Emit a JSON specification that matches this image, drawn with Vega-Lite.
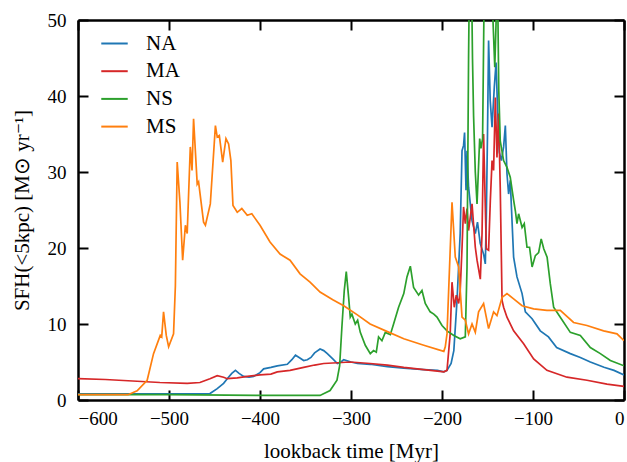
{
  "$schema": "https://vega.github.io/schema/vega-lite/v6.json",
  "width": 546,
  "height": 380,
  "autosize": "none",
  "padding": {"left": 78, "top": 20, "right": 3, "bottom": 62},
  "background": "white",
  "config": {
    "view": {"stroke": null},
    "font": "Liberation Serif",
    "axis": {
      "grid": false,
      "domainColor": "black",
      "domainWidth": 2.5,
      "tickColor": "black",
      "tickWidth": 2,
      "tickSize": -10,
      "labelFont": "Liberation Serif",
      "labelFontSize": 19,
      "labelColor": "black",
      "titleFont": "Liberation Serif",
      "titleFontSize": 21,
      "titleFontWeight": "normal",
      "titleColor": "black"
    },
    "legend": {
      "labelFont": "Liberation Serif",
      "labelFontSize": 21,
      "labelColor": "black"
    }
  },
  "data": {
    "values": [
      {"t": -600, "v": 0.8, "s": "NA"}, {"t": -580, "v": 0.8, "s": "NA"}, {"t": -550, "v": 0.8, "s": "NA"}, {"t": -520, "v": 0.8, "s": "NA"}, {"t": -490, "v": 0.8, "s": "NA"}, {"t": -470, "v": 0.8, "s": "NA"}, {"t": -455, "v": 0.85, "s": "NA"}, {"t": -447, "v": 1.5, "s": "NA"}, {"t": -440, "v": 2.2, "s": "NA"}, {"t": -436, "v": 2.8, "s": "NA"}, {"t": -431, "v": 3.5, "s": "NA"}, {"t": -427, "v": 3.9, "s": "NA"}, {"t": -423, "v": 3.5, "s": "NA"}, {"t": -418, "v": 3.1, "s": "NA"}, {"t": -412, "v": 3.0, "s": "NA"}, {"t": -407, "v": 3.1, "s": "NA"}, {"t": -400, "v": 3.6, "s": "NA"}, {"t": -396, "v": 4.1, "s": "NA"}, {"t": -388, "v": 4.3, "s": "NA"}, {"t": -381, "v": 4.5, "s": "NA"}, {"t": -370, "v": 4.7, "s": "NA"}, {"t": -365, "v": 5.3, "s": "NA"}, {"t": -361, "v": 5.9, "s": "NA"}, {"t": -357, "v": 5.6, "s": "NA"}, {"t": -352, "v": 5.2, "s": "NA"}, {"t": -348, "v": 5.3, "s": "NA"}, {"t": -344, "v": 5.6, "s": "NA"}, {"t": -340, "v": 6.2, "s": "NA"}, {"t": -334, "v": 6.7, "s": "NA"}, {"t": -330, "v": 6.5, "s": "NA"}, {"t": -326, "v": 6.1, "s": "NA"}, {"t": -320, "v": 5.4, "s": "NA"}, {"t": -315, "v": 4.8, "s": "NA"}, {"t": -311, "v": 5.0, "s": "NA"}, {"t": -308, "v": 5.3, "s": "NA"}, {"t": -300, "v": 5.0, "s": "NA"}, {"t": -293, "v": 4.8, "s": "NA"}, {"t": -279, "v": 4.7, "s": "NA"}, {"t": -260, "v": 4.4, "s": "NA"}, {"t": -242, "v": 4.2, "s": "NA"}, {"t": -220, "v": 4.0, "s": "NA"}, {"t": -205, "v": 3.9, "s": "NA"}, {"t": -198, "v": 3.7, "s": "NA"}, {"t": -194.5, "v": 3.9, "s": "NA"}, {"t": -190, "v": 4.8, "s": "NA"}, {"t": -187, "v": 6.5, "s": "NA"}, {"t": -183.5, "v": 13.1, "s": "NA"}, {"t": -180, "v": 21.9, "s": "NA"}, {"t": -178, "v": 32.8, "s": "NA"}, {"t": -176.3, "v": 33.5, "s": "NA"}, {"t": -175.2, "v": 35.2, "s": "NA"}, {"t": -173.6, "v": 27.6, "s": "NA"}, {"t": -172.5, "v": 32.8, "s": "NA"}, {"t": -170.8, "v": 28.0, "s": "NA"}, {"t": -167, "v": 23.6, "s": "NA"}, {"t": -163.4, "v": 21.9, "s": "NA"}, {"t": -161, "v": 23.4, "s": "NA"}, {"t": -158, "v": 20.6, "s": "NA"}, {"t": -154.3, "v": 19.2, "s": "NA"}, {"t": -152.4, "v": 17.9, "s": "NA"}, {"t": -151.3, "v": 24.1, "s": "NA"}, {"t": -150, "v": 35.0, "s": "NA"}, {"t": -148.8, "v": 47.3, "s": "NA"}, {"t": -147, "v": 39.4, "s": "NA"}, {"t": -145, "v": 35.9, "s": "NA"}, {"t": -142.5, "v": 41.2, "s": "NA"}, {"t": -140.6, "v": 44.4, "s": "NA"}, {"t": -139, "v": 38.5, "s": "NA"}, {"t": -137, "v": 32.6, "s": "NA"}, {"t": -134.8, "v": 31.5, "s": "NA"}, {"t": -132.3, "v": 33.3, "s": "NA"}, {"t": -130.4, "v": 36.1, "s": "NA"}, {"t": -128.6, "v": 29.8, "s": "NA"}, {"t": -126.8, "v": 27.1, "s": "NA"}, {"t": -125, "v": 28.9, "s": "NA"}, {"t": -121.3, "v": 18.8, "s": "NA"}, {"t": -117.6, "v": 16.2, "s": "NA"}, {"t": -112, "v": 14.0, "s": "NA"}, {"t": -108.4, "v": 11.6, "s": "NA"}, {"t": -101, "v": 10.7, "s": "NA"}, {"t": -92, "v": 9.1, "s": "NA"}, {"t": -83, "v": 8.3, "s": "NA"}, {"t": -74, "v": 6.9, "s": "NA"}, {"t": -59, "v": 6.1, "s": "NA"}, {"t": -48, "v": 5.6, "s": "NA"}, {"t": -37, "v": 5.0, "s": "NA"}, {"t": -22, "v": 4.3, "s": "NA"}, {"t": -11, "v": 3.9, "s": "NA"}, {"t": 0, "v": 3.3, "s": "NA"},

      {"t": -600, "v": 2.8, "s": "MA"}, {"t": -570, "v": 2.7, "s": "MA"}, {"t": -540, "v": 2.5, "s": "MA"}, {"t": -510, "v": 2.3, "s": "MA"}, {"t": -480, "v": 2.2, "s": "MA"}, {"t": -466, "v": 2.3, "s": "MA"}, {"t": -455, "v": 2.8, "s": "MA"}, {"t": -447, "v": 3.2, "s": "MA"}, {"t": -440, "v": 3.0, "s": "MA"}, {"t": -436, "v": 2.8, "s": "MA"}, {"t": -425, "v": 2.9, "s": "MA"}, {"t": -414, "v": 3.1, "s": "MA"}, {"t": -400, "v": 3.3, "s": "MA"}, {"t": -388, "v": 3.4, "s": "MA"}, {"t": -381, "v": 3.7, "s": "MA"}, {"t": -367, "v": 3.9, "s": "MA"}, {"t": -352, "v": 4.3, "s": "MA"}, {"t": -340, "v": 4.6, "s": "MA"}, {"t": -330, "v": 4.8, "s": "MA"}, {"t": -315, "v": 4.9, "s": "MA"}, {"t": -301, "v": 5.0, "s": "MA"}, {"t": -290, "v": 4.9, "s": "MA"}, {"t": -279, "v": 4.8, "s": "MA"}, {"t": -260, "v": 4.6, "s": "MA"}, {"t": -242, "v": 4.3, "s": "MA"}, {"t": -220, "v": 4.0, "s": "MA"}, {"t": -205, "v": 3.8, "s": "MA"}, {"t": -198, "v": 3.7, "s": "MA"}, {"t": -194.5, "v": 3.9, "s": "MA"}, {"t": -191, "v": 8.7, "s": "MA"}, {"t": -189, "v": 15.5, "s": "MA"}, {"t": -186.5, "v": 12.2, "s": "MA"}, {"t": -184.3, "v": 13.8, "s": "MA"}, {"t": -181.7, "v": 12.7, "s": "MA"}, {"t": -180, "v": 14.4, "s": "MA"}, {"t": -178, "v": 20.0, "s": "MA"}, {"t": -176.3, "v": 25.4, "s": "MA"}, {"t": -174.4, "v": 23.2, "s": "MA"}, {"t": -172.5, "v": 25.2, "s": "MA"}, {"t": -170.8, "v": 22.3, "s": "MA"}, {"t": -167, "v": 25.8, "s": "MA"}, {"t": -163.4, "v": 20.1, "s": "MA"}, {"t": -161.5, "v": 18.4, "s": "MA"}, {"t": -157.9, "v": 15.9, "s": "MA"}, {"t": -156, "v": 21.9, "s": "MA"}, {"t": -154.3, "v": 35.0, "s": "MA"}, {"t": -151.3, "v": 19.9, "s": "MA"}, {"t": -148.8, "v": 19.7, "s": "MA"}, {"t": -146.9, "v": 26.2, "s": "MA"}, {"t": -145, "v": 31.5, "s": "MA"}, {"t": -143.3, "v": 30.2, "s": "MA"}, {"t": -141.4, "v": 39.8, "s": "MA"}, {"t": -139.6, "v": 31.9, "s": "MA"}, {"t": -137.8, "v": 37.7, "s": "MA"}, {"t": -136, "v": 28.0, "s": "MA"}, {"t": -134, "v": 13.1, "s": "MA"}, {"t": -132.3, "v": 12.2, "s": "MA"}, {"t": -128.6, "v": 10.9, "s": "MA"}, {"t": -121.3, "v": 9.1, "s": "MA"}, {"t": -110.3, "v": 7.4, "s": "MA"}, {"t": -99.3, "v": 5.4, "s": "MA"}, {"t": -84.7, "v": 3.9, "s": "MA"}, {"t": -62.7, "v": 3.0, "s": "MA"}, {"t": -40.7, "v": 2.6, "s": "MA"}, {"t": -18.7, "v": 2.1, "s": "MA"}, {"t": 0, "v": 1.8, "s": "MA"},

      {"t": -600, "v": 0.7, "s": "NS"}, {"t": -500, "v": 0.7, "s": "NS"}, {"t": -400, "v": 0.6, "s": "NS"}, {"t": -334, "v": 0.6, "s": "NS"}, {"t": -323, "v": 1.25, "s": "NS"}, {"t": -315.4, "v": 2.6, "s": "NS"}, {"t": -312.5, "v": 4.5, "s": "NS"}, {"t": -310, "v": 9.6, "s": "NS"}, {"t": -307.4, "v": 14.4, "s": "NS"}, {"t": -305.2, "v": 16.9, "s": "NS"}, {"t": -302.6, "v": 13.5, "s": "NS"}, {"t": -300.8, "v": 10.9, "s": "NS"}, {"t": -299, "v": 11.3, "s": "NS"}, {"t": -295.3, "v": 10.0, "s": "NS"}, {"t": -292.7, "v": 10.5, "s": "NS"}, {"t": -289.8, "v": 8.9, "s": "NS"}, {"t": -284.3, "v": 7.2, "s": "NS"}, {"t": -278.8, "v": 6.1, "s": "NS"}, {"t": -275.2, "v": 6.5, "s": "NS"}, {"t": -272.2, "v": 6.3, "s": "NS"}, {"t": -269.7, "v": 8.3, "s": "NS"}, {"t": -266, "v": 7.8, "s": "NS"}, {"t": -262.3, "v": 8.9, "s": "NS"}, {"t": -256.8, "v": 8.6, "s": "NS"}, {"t": -253.2, "v": 10.0, "s": "NS"}, {"t": -247.7, "v": 12.2, "s": "NS"}, {"t": -242, "v": 14.0, "s": "NS"}, {"t": -238.5, "v": 16.2, "s": "NS"}, {"t": -234.8, "v": 17.6, "s": "NS"}, {"t": -231.2, "v": 14.8, "s": "NS"}, {"t": -225.7, "v": 13.8, "s": "NS"}, {"t": -222, "v": 14.4, "s": "NS"}, {"t": -218.4, "v": 12.7, "s": "NS"}, {"t": -213, "v": 11.6, "s": "NS"}, {"t": -209, "v": 11.3, "s": "NS"}, {"t": -205.5, "v": 10.9, "s": "NS"}, {"t": -200, "v": 9.8, "s": "NS"}, {"t": -194.5, "v": 9.1, "s": "NS"}, {"t": -187, "v": 8.5, "s": "NS"}, {"t": -180, "v": 8.05, "s": "NS"}, {"t": -174.4, "v": 8.3, "s": "NS"}, {"t": -172.5, "v": 17.5, "s": "NS"}, {"t": -170.8, "v": 45, "s": "NS"}, {"t": -169.5, "v": 60, "s": "NS"}, {"t": -168, "v": 60, "s": "NS"}, {"t": -166.5, "v": 45, "s": "NS"}, {"t": -165.3, "v": 37.4, "s": "NS"}, {"t": -163.4, "v": 30.0, "s": "NS"}, {"t": -161.5, "v": 25.8, "s": "NS"}, {"t": -158.6, "v": 34.4, "s": "NS"}, {"t": -157.2, "v": 33.1, "s": "NS"}, {"t": -155.4, "v": 34.4, "s": "NS"}, {"t": -154, "v": 50, "s": "NS"}, {"t": -153, "v": 60, "s": "NS"}, {"t": -146, "v": 60, "s": "NS"}, {"t": -144, "v": 50, "s": "NS"}, {"t": -142, "v": 43.8, "s": "NS"}, {"t": -140.5, "v": 50, "s": "NS"}, {"t": -139.5, "v": 58, "s": "NS"}, {"t": -138.5, "v": 50, "s": "NS"}, {"t": -137.6, "v": 40.7, "s": "NS"}, {"t": -136, "v": 34.1, "s": "NS"}, {"t": -132.3, "v": 31.5, "s": "NS"}, {"t": -128.6, "v": 30.6, "s": "NS"}, {"t": -125, "v": 29.3, "s": "NS"}, {"t": -121.3, "v": 26.3, "s": "NS"}, {"t": -119.4, "v": 24.9, "s": "NS"}, {"t": -117.6, "v": 23.2, "s": "NS"}, {"t": -115.8, "v": 24.5, "s": "NS"}, {"t": -112, "v": 22.7, "s": "NS"}, {"t": -109.6, "v": 23.2, "s": "NS"}, {"t": -106.6, "v": 20.1, "s": "NS"}, {"t": -103.8, "v": 20.1, "s": "NS"}, {"t": -101, "v": 17.5, "s": "NS"}, {"t": -97.4, "v": 19.0, "s": "NS"}, {"t": -93.8, "v": 19.4, "s": "NS"}, {"t": -91, "v": 21.2, "s": "NS"}, {"t": -88.2, "v": 19.9, "s": "NS"}, {"t": -84.5, "v": 18.8, "s": "NS"}, {"t": -81, "v": 15.3, "s": "NS"}, {"t": -77.3, "v": 12.2, "s": "NS"}, {"t": -70, "v": 10.9, "s": "NS"}, {"t": -59, "v": 8.9, "s": "NS"}, {"t": -48, "v": 8.5, "s": "NS"}, {"t": -37, "v": 6.9, "s": "NS"}, {"t": -26, "v": 6.1, "s": "NS"}, {"t": -15, "v": 5.2, "s": "NS"}, {"t": 0, "v": 4.5, "s": "NS"},

      {"t": -600, "v": 0.7, "s": "MS"}, {"t": -570, "v": 0.7, "s": "MS"}, {"t": -545, "v": 0.7, "s": "MS"}, {"t": -535, "v": 1.2, "s": "MS"}, {"t": -524, "v": 2.6, "s": "MS"}, {"t": -517, "v": 6.1, "s": "MS"}, {"t": -509.6, "v": 8.5, "s": "MS"}, {"t": -508, "v": 8.3, "s": "MS"}, {"t": -506, "v": 11.6, "s": "MS"}, {"t": -503, "v": 8.5, "s": "MS"}, {"t": -500.4, "v": 7.0, "s": "MS"}, {"t": -495, "v": 8.7, "s": "MS"}, {"t": -493, "v": 15, "s": "MS"}, {"t": -491, "v": 31.3, "s": "MS"}, {"t": -488, "v": 26, "s": "MS"}, {"t": -485, "v": 18.4, "s": "MS"}, {"t": -482, "v": 23.0, "s": "MS"}, {"t": -480, "v": 21.9, "s": "MS"}, {"t": -476.6, "v": 33.3, "s": "MS"}, {"t": -474.7, "v": 30.2, "s": "MS"}, {"t": -473, "v": 37.0, "s": "MS"}, {"t": -469, "v": 28.4, "s": "MS"}, {"t": -467.5, "v": 28.7, "s": "MS"}, {"t": -462, "v": 23.4, "s": "MS"}, {"t": -460, "v": 23.0, "s": "MS"}, {"t": -454.6, "v": 25.8, "s": "MS"}, {"t": -449, "v": 36.1, "s": "MS"}, {"t": -447, "v": 34.6, "s": "MS"}, {"t": -444.7, "v": 34.8, "s": "MS"}, {"t": -441, "v": 31.3, "s": "MS"}, {"t": -437.4, "v": 34.4, "s": "MS"}, {"t": -434.5, "v": 33.7, "s": "MS"}, {"t": -432, "v": 31.5, "s": "MS"}, {"t": -429.7, "v": 25.6, "s": "MS"}, {"t": -425, "v": 24.7, "s": "MS"}, {"t": -420, "v": 25.2, "s": "MS"}, {"t": -414, "v": 24.3, "s": "MS"}, {"t": -409, "v": 24.5, "s": "MS"}, {"t": -400, "v": 23.0, "s": "MS"}, {"t": -389, "v": 20.8, "s": "MS"}, {"t": -378, "v": 19.2, "s": "MS"}, {"t": -367, "v": 18.4, "s": "MS"}, {"t": -356, "v": 16.6, "s": "MS"}, {"t": -345, "v": 15.5, "s": "MS"}, {"t": -334, "v": 14.2, "s": "MS"}, {"t": -320, "v": 13.2, "s": "MS"}, {"t": -308, "v": 12.4, "s": "MS"}, {"t": -293, "v": 11.2, "s": "MS"}, {"t": -279, "v": 10.0, "s": "MS"}, {"t": -260, "v": 9.0, "s": "MS"}, {"t": -242, "v": 8.05, "s": "MS"}, {"t": -220, "v": 7.2, "s": "MS"}, {"t": -198, "v": 6.4, "s": "MS"}, {"t": -196.4, "v": 7.0, "s": "MS"}, {"t": -194.5, "v": 8.7, "s": "MS"}, {"t": -189, "v": 26.0, "s": "MS"}, {"t": -185.4, "v": 18.8, "s": "MS"}, {"t": -181.7, "v": 17.5, "s": "MS"}, {"t": -178, "v": 10.9, "s": "MS"}, {"t": -174.4, "v": 10.5, "s": "MS"}, {"t": -170.8, "v": 8.7, "s": "MS"}, {"t": -167, "v": 10.0, "s": "MS"}, {"t": -163.4, "v": 8.9, "s": "MS"}, {"t": -159.8, "v": 11.6, "s": "MS"}, {"t": -154.3, "v": 12.7, "s": "MS"}, {"t": -148.8, "v": 9.4, "s": "MS"}, {"t": -143.3, "v": 11.6, "s": "MS"}, {"t": -139.6, "v": 11.1, "s": "MS"}, {"t": -134, "v": 13.5, "s": "MS"}, {"t": -128.6, "v": 14.0, "s": "MS"}, {"t": -121.3, "v": 13.3, "s": "MS"}, {"t": -112, "v": 12.4, "s": "MS"}, {"t": -99.3, "v": 12.0, "s": "MS"}, {"t": -84.7, "v": 11.8, "s": "MS"}, {"t": -70, "v": 11.8, "s": "MS"}, {"t": -55.4, "v": 10.2, "s": "MS"}, {"t": -40.7, "v": 9.8, "s": "MS"}, {"t": -22.4, "v": 9.1, "s": "MS"}, {"t": -7.7, "v": 8.7, "s": "MS"}, {"t": 0, "v": 7.8, "s": "MS"}
    ]
  },
  "layer": [
    {
      "mark": {"type": "line", "strokeWidth": 1.7, "clip": true},
      "encoding": {
        "x": {
          "field": "t", "type": "quantitative",
          "scale": {"domain": [-600, 0], "nice": false, "zero": false},
          "axis": {"orient": "bottom", "values": [-600, -500, -400, -300, -200, -100, 0], "title": "lookback time [Myr]", "labelPadding": 19, "titlePadding": 12}
        },
        "y": {
          "field": "v", "type": "quantitative",
          "scale": {"domain": [0, 50], "nice": false},
          "axis": {"orient": "left", "values": [0, 10, 20, 30, 40, 50], "title": "SFH(<5kpc) [M⊙ yr⁻¹]", "labelPadding": 22, "titlePadding": 15}
        },
        "color": {
          "field": "s", "type": "nominal",
          "scale": {"domain": ["NA", "MA", "NS", "MS"], "range": ["#1f77b4", "#d62728", "#2ca02c", "#ff7f0e"]},
          "legend": {
            "title": null,
            "orient": "none",
            "legendX": 22,
            "legendY": 9,
            "symbolType": "stroke",
            "symbolSize": 700,
            "symbolStrokeWidth": 2,
            "rowPadding": 2.7,
            "labelOffset": 17,
            "padding": 0
          }
        },
        "order": {"field": "t", "type": "quantitative"}
      }
    },
    {
      "mark": {"type": "line", "strokeOpacity": 0},
      "encoding": {
        "x": {"field": "t", "type": "quantitative", "axis": {"orient": "top", "values": [-600, -500, -400, -300, -200, -100, 0], "labels": false, "title": null}},
        "y": {"field": "v", "type": "quantitative", "axis": {"orient": "right", "values": [0, 10, 20, 30, 40, 50], "labels": false, "title": null}}
      }
    }
  ],
  "resolve": {"axis": {"x": "independent", "y": "independent"}}
}
